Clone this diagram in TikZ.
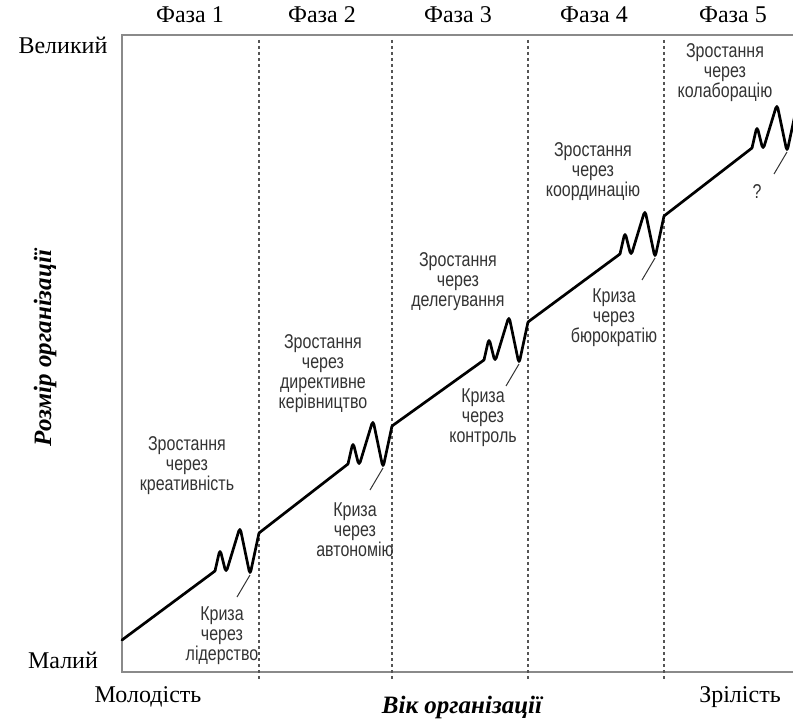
\documentclass[tikz,border=0pt]{standalone}
\usepackage{fontspec}
\setmainfont{Liberation Serif}
\newfontfamily\narrowsans[FakeStretch=0.8]{Liberation Sans}
\usetikzlibrary{calc}
\definecolor{Frame}{HTML}{8A8A8A}
\definecolor{Guide}{HTML}{555555}
\definecolor{Note}{HTML}{333333}
\tikzset{
 frame/.style={draw=Frame,line width=1.2pt},
 guide/.style={draw=Guide,line width=.6pt,dash pattern=on 1.6pt off 1.4pt},
 growth/.style={draw=black,line width=1.35pt,line join=round,line cap=round},
 coil/.style={growth,rounded corners=2.2pt},
 pointer/.style={draw=Note,line width=.5pt},
 phase/.style={font=\fontsize{12}{14}\selectfont,inner sep=0pt},
 axis title/.style={font=\fontsize{12.5}{14}\selectfont\bfseries\itshape,inner sep=0pt},
 note/.style={font=\narrowsans\fontsize{10}{10}\selectfont,text=Note,align=center,inner sep=0pt}
}
\begin{document}
\begin{tikzpicture}[x=.5pt,y=-.5pt]
\useasboundingbox (0,0) rectangle (793,727);
\clip (0,0) rectangle (793,727);
% axes and phase borders
\draw[frame] (793,35) -- (122,35) -- (122,672) -- (793,672);
\foreach \x in {259,392,528,664}
 \draw[guide] (\x,40) -- (\x,681);
\foreach \x [count=\k] in {190,322,458,594,733}
 \node[phase] (phase\k) at (\x,15) {Фаза \k};
\node[phase] (big) at (63,45) {Великий};
\node[phase] (small) at (63,660) {Малий};
\node[phase] (young) at (148,697) {Молодість};
\node[phase] (mature) at (740,697) {Зрілість};
\node[axis title] (agetitle) at (462,707) {Вік організації};
\node[axis title,rotate=90] (sizetitle) at (45,348) {Розмір організації};
% growth line with crises
\foreach \px/\py/\sx/\sy [count=\k] in {122/640/215/571,259/533/348/464,392/426/484/360,528/322/620/254,664/216/752/148} {
 \draw[growth] (\px,\py) -- (\sx,\sy);
 \draw[coil] (\sx,\sy) -- ++(5,-22) -- ++(6,24) -- ++(14,-46) -- ++(10,48) -- ++(9,-42);
 \coordinate (dip\k) at (\sx+35,\sy+4);
 \coordinate (tail\k) at (\sx+22,\sy+26);
 \draw[pointer] (tail\k) -- (dip\k);
}
\node[note] (grow1) at (187,466) {Зростання\\через\\креативність};
\node[note] (crisis1) at (222,636) {Криза\\через\\лідерство};
\node[note] (grow2) at (323,374) {Зростання\\через\\директивне\\керівництво};
\node[note] (crisis2) at (355,530) {Криза\\через\\автономію};
\node[note] (grow3) at (458,282) {Зростання\\через\\делегування};
\node[note] (crisis3) at (483,418) {Криза\\через\\контроль};
\node[note] (grow4) at (593,172) {Зростання\\через\\координацію};
\node[note] (crisis4) at (614,318) {Криза\\через\\бюрократію};
\node[note] (grow5) at (725,73) {Зростання\\через\\колаборацію};
\node[note] (unknown) at (757,192) {?};
\end{tikzpicture}
\end{document}
